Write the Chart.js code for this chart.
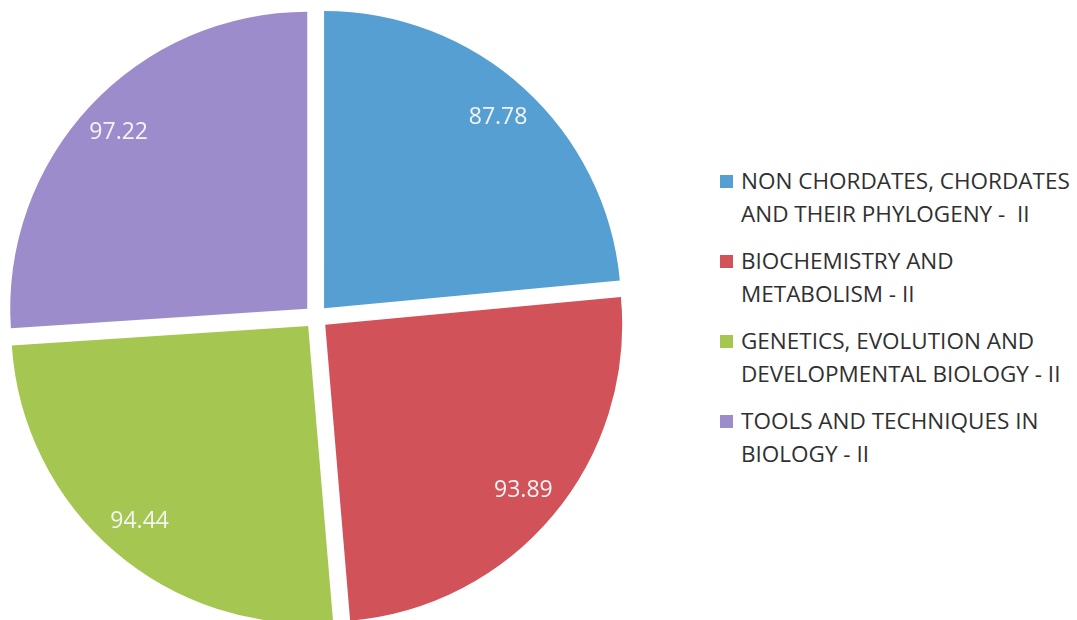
<!DOCTYPE html>
<html>
<head>
<meta charset="utf-8">
<script src="https://cdn.jsdelivr.net/npm/chart.js@4.4.1/dist/chart.umd.min.js"></script>
<style>
  html, body { margin: 0; padding: 0; background: #fff; overflow: hidden; width: 1077px; height: 620px; }
  #pieBox { position: absolute; left: 0; top: 0; width: 632px; height: 634px; }
  #legend { position: absolute; left: 720px; top: 165px; font-family: "Open Sans", sans-serif; font-size: 22.5px; color: #303030; }
  .item { display: flex; margin-bottom: 15px; }
  .box { width: 13px; height: 13px; margin-top: 10px; margin-right: 8px; flex: none; }
  .txt { line-height: 32.5px; white-space: pre; }
</style>
</head>
<body>
<div id="pieBox"><canvas id="pie"></canvas></div>
<div id="legend"></div>
<script>
// subjects, each label split over two lines as in the legend
var categories = [
  ["NON CHORDATES, CHORDATES", "AND THEIR PHYLOGENY -  II"],
  ["BIOCHEMISTRY AND", "METABOLISM - II"],
  ["GENETICS, EVOLUTION AND", "DEVELOPMENTAL BIOLOGY - II"],
  ["TOOLS AND TECHNIQUES IN", "BIOLOGY - II"]
];
var values = [87.78, 93.89, 94.44, 97.22];
var colors = ["#569fd3", "#d2525a", "#a5c650", "#9c8ccb"];

// legend built in html so the wrapped lines stay as they are in the picture
var legend = document.getElementById("legend");
categories.forEach(function (lines, i) {
  var item = document.createElement("div");
  item.className = "item";
  var box = document.createElement("div");
  box.className = "box";
  box.style.background = colors[i];
  var txt = document.createElement("div");
  txt.className = "txt";
  txt.textContent = lines.join("\n");
  item.appendChild(box);
  item.appendChild(txt);
  legend.appendChild(item);
});

// values written inside each slice, near the rim
var valueLabels = {
  id: "valueLabels",
  afterDatasetsDraw: function (chart) {
    var ctx = chart.ctx;
    var meta = chart.getDatasetMeta(0);
    ctx.save();
    ctx.font = '23px "Open Sans"';
    ctx.fillStyle = "#f4f4f4";
    ctx.textAlign = "center";
    ctx.textBaseline = "middle";
    meta.data.forEach(function (arc, i) {
      var p = arc.getProps(["x", "y", "startAngle", "endAngle", "outerRadius"]);
      var mid = (p.startAngle + p.endAngle) / 2;
      var r = p.outerRadius * 0.87 + 12;
      ctx.fillText(values[i].toFixed(2), p.x + Math.cos(mid) * r, p.y + Math.sin(mid) * r);
    });
    ctx.restore();
  }
};

document.fonts.load('23px "Open Sans"').then(function () {
  new Chart(document.getElementById("pie"), {
    type: "pie",
    data: {
      labels: categories,
      datasets: [{
        data: values,
        backgroundColor: colors,
        borderWidth: 0,
        offset: 48, // chart.js moves the slice by offset / 4
        radius: 297
      }]
    },
    options: {
      responsive: true,
      maintainAspectRatio: false,
      animation: false,
      plugins: {
        legend: { display: false },
        tooltip: { enabled: false }
      }
    },
    plugins: [valueLabels]
  });
});
</script>
</body>
</html>
